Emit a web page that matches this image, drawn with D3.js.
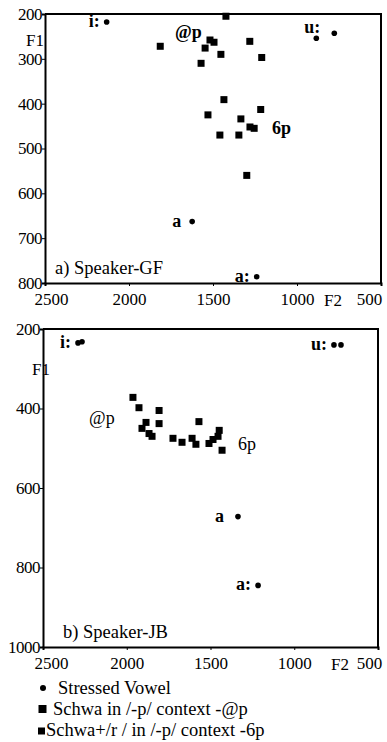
<!DOCTYPE html>
<html>
<head>
<meta charset="utf-8">
<script src="https://cdn.jsdelivr.net/npm/d3@7"></script>
<style>
  body { margin: 0; background: #fff; }
  svg { display: block; }
  .domain, .tick line { stroke: #000; }
</style>
</head>
<body>
<div id="chart"></div>
<script>
// ---- data (F2, F1 in Hz) ----
var f2Ticks = [2500, 2000, 1500, 1000, 500];
var gfF1Ticks = [200, 300, 400, 500, 600, 700, 800];
var jbF1Ticks = [200, 400, 600, 800, 1000];

// speaker GF
var gfStressed = [[2133, 218], [885, 254], [778, 243], [1624, 663], [1240, 786]];
var gfStressedLabels = [["i:", 2133, 218], ["u:", 885, 254], ["a", 1624, 663], ["a:", 1240, 786]];
var gfSchwaP = [[1814, 272], [1571, 310], [1547, 276], [1518, 258], [1494, 263],
  [1453, 290], [1281, 261], [1210, 297], [1423, 205]];
var gfSchwaR = [[1435, 391], [1530, 425], [1216, 413], [1334, 434], [1280, 452],
  [1255, 455], [1459, 470], [1346, 470], [1299, 560]];
var gfGroupLabels = [["@p", 1726, 254], ["6p", 1149, 467]];

// speaker JB
var jbStressed = [[2291, 235], [2267, 232], [763, 240], [721, 240], [1336, 672], [1216, 845]];
var jbStressedLabels = [["i:", 2291, 235], ["u:", 763, 240], ["a", 1336, 672], ["a:", 1216, 845]];
var jbSchwaP = [[1963, 372], [1927, 398], [1807, 405], [1885, 435], [1807, 438],
  [1909, 450], [1867, 463], [1849, 470]];
var jbSchwaR = [[1724, 475], [1670, 485], [1610, 475], [1587, 490], [1569, 433],
  [1509, 488], [1485, 478], [1455, 470], [1448, 455], [1431, 505]];
var jbGroupLabels = [["@p", 2225, 438], ["6p", 1336, 505]];

var legendItems = ["Stressed Vowel", "Schwa in /-p/ context -@p", "Schwa+/r / in /-p/ context -6p"];

var serif = "'Liberation Serif', 'Times New Roman', Tinos, 'DejaVu Serif', serif";

// svg container
var svgWidth = 387;
var svgHeight = 742;

var svg = d3.select("#chart")
  .append("svg")
  .attr("width", svgWidth)
  .attr("height", svgHeight)
  .attr("font-family", serif);

// draw one panel
function drawPanel(p) {
  var x = d3.scaleLinear().domain([2500, 500]).range([p.left, p.right]);
  var y = d3.scaleLinear().domain(p.f1Domain).range([p.top, p.bottom]);
  var g = svg.append("g");

  // frame: top and right lines
  g.append("path")
    .attr("d", `M${p.left},${p.top}H${p.right}V${p.bottom}`)
    .attr("fill", "none")
    .attr("stroke", "#000")
    .attr("stroke-width", 2);

  // x axis
  var xAxis = g.append("g")
    .attr("transform", `translate(0, ${p.bottom})`)
    .call(d3.axisBottom(x).tickValues(f2Ticks).tickFormat(d3.format("d")).tickSize(3).tickPadding(7));
  xAxis.attr("font-family", serif);
  xAxis.select(".domain").attr("stroke-width", 2);
  xAxis.selectAll("text").attr("font-size", 17);
  xAxis.selectAll(".tick text").filter(d => d === 2500).attr("dx", p.firstDx);
  xAxis.selectAll(".tick text").filter(d => d === 500).attr("dx", p.lastDx);

  // y axis
  var yAxis = g.append("g")
    .attr("transform", `translate(${p.left}, 0)`)
    .call(d3.axisLeft(y).tickValues(p.f1Ticks).tickFormat(d3.format("d")).tickSize(3).tickPadding(0));
  yAxis.attr("font-family", serif);
  yAxis.select(".domain").attr("stroke-width", 2);
  yAxis.selectAll("text").attr("font-size", 17).attr("letter-spacing", -0.5);

  // axis names
  g.append("text")
    .attr("x", p.f1x)
    .attr("y", p.f1y)
    .attr("text-anchor", "middle")
    .attr("font-size", 17)
    .text("F1");
  g.append("text")
    .attr("x", p.f2x)
    .attr("y", p.bottom + 23)
    .attr("text-anchor", "middle")
    .attr("font-size", 17)
    .text("F2");

  // panel title
  g.append("text")
    .attr("x", p.left + p.titleDx)
    .attr("y", p.bottom - 9)
    .attr("font-size", 18.5)
    .text(p.title);

  // schwa squares
  g.selectAll("rect.schwa")
    .data(p.schwa)
    .enter()
    .append("rect")
    .attr("class", "schwa")
    .attr("x", d => x(d[0]) - 3.5)
    .attr("y", d => y(d[1]) - 3.5)
    .attr("width", 7)
    .attr("height", 7)
    .attr("fill", "#000");

  // stressed vowels
  g.selectAll("circle.stressed")
    .data(p.stressed)
    .enter()
    .append("circle")
    .attr("class", "stressed")
    .attr("cx", d => x(d[0]))
    .attr("cy", d => y(d[1]))
    .attr("r", 2.8)
    .attr("fill", "#000");

  g.selectAll("text.vowel")
    .data(p.stressedLabels)
    .enter()
    .append("text")
    .attr("class", "vowel")
    .attr("x", d => x(d[1]) - 7 + (p.labelShift[d[0]] || [0, 0])[0])
    .attr("y", d => y(d[2]) + 5 + (p.labelShift[d[0]] || [0, 0])[1])
    .attr("text-anchor", "end")
    .attr("font-size", 18)
    .attr("font-weight", "bold")
    .text(d => d[0]);

  g.selectAll("text.group")
    .data(p.groupLabels)
    .enter()
    .append("text")
    .attr("class", "group")
    .attr("x", d => x(d[1]))
    .attr("y", d => y(d[2]))
    .attr("font-size", 18)
    .attr("font-weight", p.groupWeight)
    .text(d => d[0]);
}

drawPanel({
  left: 45, right: 381, top: 14, bottom: 283,
  f1Domain: [200, 800], f1Ticks: gfF1Ticks,
  stressed: gfStressed, stressedLabels: gfStressedLabels,
  schwa: gfSchwaP.concat(gfSchwaR), groupLabels: gfGroupLabels,
  title: "a) Speaker-GF", titleDx: 10,
  f1x: 35, f1y: 46, f2x: 333,
  firstDx: 6, lastDx: -12,
  labelShift: { "u:": [11, -10], "a": [-4, 0] },
  groupWeight: "bold"
});

drawPanel({
  left: 43, right: 378, top: 329, bottom: 647,
  f1Domain: [200, 1000], f1Ticks: jbF1Ticks,
  stressed: jbStressed, stressedLabels: jbStressedLabels,
  schwa: jbSchwaP.concat(jbSchwaR), groupLabels: jbGroupLabels,
  title: "b) Speaker-JB", titleDx: 20,
  f1x: 41, f1y: 375, f2x: 340,
  firstDx: 8, lastDx: -9,
  labelShift: { "a": [-7, 0] },
  groupWeight: "normal"
});

// legend
var legend = svg.append("g");
legend.append("circle").attr("cx", 43).attr("cy", 688).attr("r", 3).attr("fill", "#000");
legend.append("rect").attr("x", 38.5).attr("y", 705).attr("width", 8).attr("height", 8).attr("fill", "#000");
legend.append("rect").attr("x", 38).attr("y", 727.5).attr("width", 7).attr("height", 7).attr("fill", "#000");

var legendX = [58, 53, 46];
var legendY = [694, 715, 736];
legend.selectAll("text")
  .data(legendItems)
  .enter()
  .append("text")
  .attr("x", (d, i) => legendX[i])
  .attr("y", (d, i) => legendY[i])
  .attr("font-size", 18.5)
  .text(d => d);
</script>
</body>
</html>
